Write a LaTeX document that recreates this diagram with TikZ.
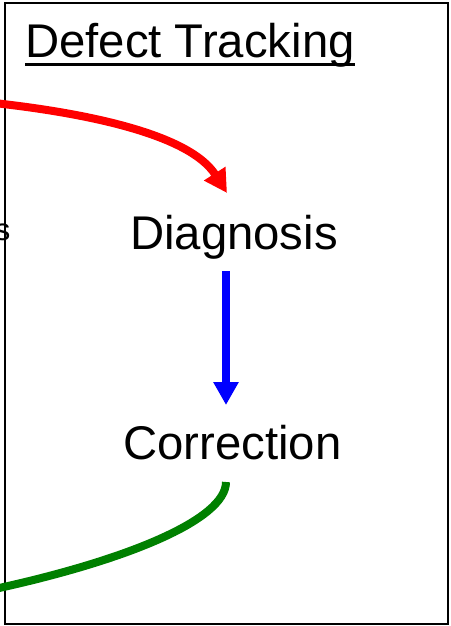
\documentclass[tikz,border=0pt]{standalone}
\usepackage{fontspec}
\setmainfont{Liberation Sans}
\usetikzlibrary{arrows.meta}
\definecolor{dgreen}{RGB}{0,128,0}
\begin{document}
\begin{tikzpicture}[x=1pt,y=-1pt,
  big/.style={inner sep=0pt,font=\fontsize{47.3}{56}\selectfont},
  conn/.style={line width=8pt},
  tip/.style={-{Triangle[length=23pt,width=24pt]}}]
\useasboundingbox (0,0) rectangle (450,626);
\draw[line width=2pt] (5,3) rectangle (448,624);
\node[big,anchor=base west] (title) at (25,58) {Defect Tracking};
\draw[line width=3pt] ([yshift=-7pt]title.base west) -- ([yshift=-7pt]title.base east);
\node[inner sep=0pt,anchor=base east,font=\fontsize{31}{37}\selectfont] (left) at (10.5,240) {s};
\node[big,anchor=base] (diag) at (234,249) {Diagnosis};
\node[big,anchor=base] (corr) at (232.5,459) {Correction};
\coordinate (redstart) at (-15,102);
\coordinate (diagin) at (227,193);
\coordinate (diagout) at (226,271);
\coordinate (corrin) at (226,405);
\coordinate (corrout) at (226,482);
\coordinate (greenend) at (-10,590);
\draw[conn,red,tip] (redstart) .. controls (90,113) and (190,135) .. (diagin);
\draw[conn,blue,tip] (diagout) -- (corrin);
\draw[conn,dgreen] (corrout) .. controls (226,520) and (125,561) .. (greenend);
\end{tikzpicture}
\end{document}
